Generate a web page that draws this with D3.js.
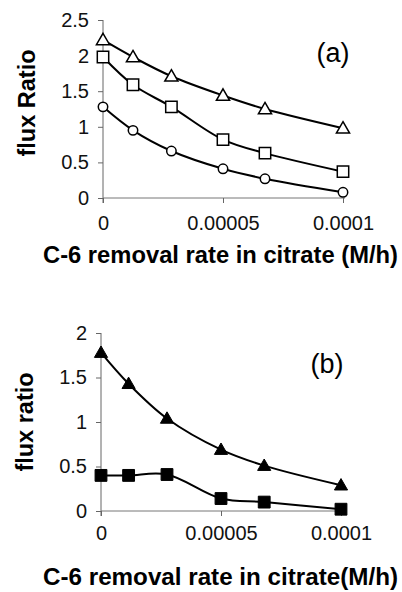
<!DOCTYPE html>
<html>
<head>
<meta charset="utf-8">
<script src="https://cdn.jsdelivr.net/npm/d3@7"></script>
<style>
  body { margin: 0; background: #fff; }
  svg { display: block; font-family: "Liberation Sans", Arial, sans-serif; }
</style>
</head>
<body>
<svg id="chart" width="402" height="592"></svg>
<script>
// panel (a)
const rateA = [0, 1.25e-5, 2.85e-5, 5e-5, 6.75e-5, 1e-4]
const triOpenA = [2.22, 1.98, 1.71, 1.44, 1.25, 0.98]
const squareOpenA = [1.98, 1.59, 1.28, 0.82, 0.63, 0.37]
const circleOpenA = [1.28, 0.95, 0.66, 0.41, 0.27, 0.08]
const yTicksA = [0, 0.5, 1, 1.5, 2, 2.5]

// panel (b)
const rateB = [0, 1.15e-5, 2.75e-5, 5e-5, 6.8e-5, 1e-4]
const triFilledB = [1.78, 1.43, 1.04, 0.69, 0.51, 0.29]
const squareFilledB = [0.40, 0.40, 0.41, 0.14, 0.10, 0.02]
const yTicksB = [0, 0.5, 1, 1.5, 2]

const xTicks = [0, 5e-5, 1e-4]
const xTickLabels = ["0", "0.00005", "0.0001"]

const svg = d3.select("#chart")

const drawPanel = (cfg) => {
    const x = d3.scaleLinear().domain([0, 1e-4]).range(cfg.xRange)
    const y = d3.scaleLinear().domain(cfg.yDomain).range(cfg.yRange)
    const g = svg.append("g")

    // Y axis
    g.append("g")
        .attr("transform", "translate(" + cfg.xRange[0] + ",0)")
        .call(d3.axisLeft(y).tickValues(cfg.yTicks).tickSize(5).tickPadding(9)
            .tickFormat(d => String(d)))
        .call(a => a.select(".domain").attr("stroke", "#666").attr("d",
            "M0," + (y(0) + 5) + "V" + y(cfg.yDomain[1])))
        .call(a => a.selectAll(".tick line").attr("stroke", "#666"))
        .call(a => a.selectAll("text").attr("font-size", 20).attr("fill", "#111"))

    // X axis
    const xa = g.append("g")
        .attr("transform", "translate(0," + cfg.yRange[0] + ")")
        .call(d3.axisBottom(x).tickValues(xTicks).tickSize(5)
            .tickFormat((d, i) => xTickLabels[i]))
    xa.select(".domain").attr("stroke", "#777").attr("d",
        "M" + cfg.xRange[0] + ",0H" + (cfg.xRange[1] + 2))
    xa.selectAll(".tick line").attr("stroke", "#666")
    xa.selectAll("text").attr("font-size", 20).attr("fill", "#111")
        .attr("y", cfg.xLabelDy).attr("dy", 0)

    // axis titles
    g.append("text")
        .attr("x", 220.5).attr("y", cfg.titleY)
        .attr("text-anchor", "middle")
        .attr("font-weight", "bold").attr("font-size", cfg.titleSize)
        .attr("textLength", 355).attr("lengthAdjust", "spacingAndGlyphs")
        .text(cfg.xTitle)

    g.append("text")
        .attr("transform", "translate(" + cfg.yTitleX + "," + cfg.yTitleY + ") rotate(-90)")
        .attr("text-anchor", "middle")
        .attr("font-weight", "bold").attr("font-size", 23.5)
        .text(cfg.yTitle)

    g.append("text")
        .attr("x", cfg.tag[0]).attr("y", cfg.tag[1])
        .attr("text-anchor", "middle")
        .attr("font-size", 27)
        .text(cfg.tagText)

    const line = d3.line()
        .x((d, i) => x(cfg.rate[i]))
        .y(d => y(d))
        .curve(d3.curveCatmullRom.alpha(0.5))

    cfg.series.forEach(s => {
        g.append("path")
            .datum(s.values)
            .attr("d", line)
            .attr("fill", "none")
            .attr("stroke", "#000")
            .attr("stroke-width", 2)

        const sym = d3.symbol().type(s.shape).size(s.size)
        g.selectAll(null)
            .data(s.values)
            .enter()
            .append("path")
            .attr("transform", (d, i) => "translate(" + x(cfg.rate[i]) + "," + (y(d) + (s.shape === d3.symbolTriangle ? 1 : 0)) + ")")
            .attr("d", sym)
            .attr("fill", s.filled ? "#000" : "#fff")
            .attr("stroke", "#000")
            .attr("stroke-width", s.filled ? 1 : 1.5)
    })
}

drawPanel({
    xRange: [103, 343], yDomain: [0, 2.5], yRange: [198, 20],
    yTicks: yTicksA, xLabelDy: 32, titleY: 263, titleSize: 23.5,
    xTitle: "C-6 removal rate in citrate (M/h)",
    yTitle: "flux Ratio", yTitleX: 35, yTitleY: 103,
    tag: [333, 62], tagText: "(a)",
    rate: rateA,
    series: [
        {values: triOpenA, shape: d3.symbolTriangle, size: 75, filled: false},
        {values: squareOpenA, shape: d3.symbolSquare, size: 130, filled: false},
        {values: circleOpenA, shape: d3.symbolCircle, size: 70, filled: false}
    ]
})

drawPanel({
    xRange: [101, 341], yDomain: [0, 2], yRange: [511, 333],
    yTicks: yTicksB, xLabelDy: 29, titleY: 585, titleSize: 23,
    xTitle: "C-6 removal rate in citrate(M/h)",
    yTitle: "flux ratio", yTitleX: 33, yTitleY: 422,
    tag: [327, 373], tagText: "(b)",
    rate: rateB,
    series: [
        {values: triFilledB, shape: d3.symbolTriangle, size: 75, filled: true},
        {values: squareFilledB, shape: d3.symbolSquare, size: 140, filled: true}
    ]
})
</script>
</body>
</html>
